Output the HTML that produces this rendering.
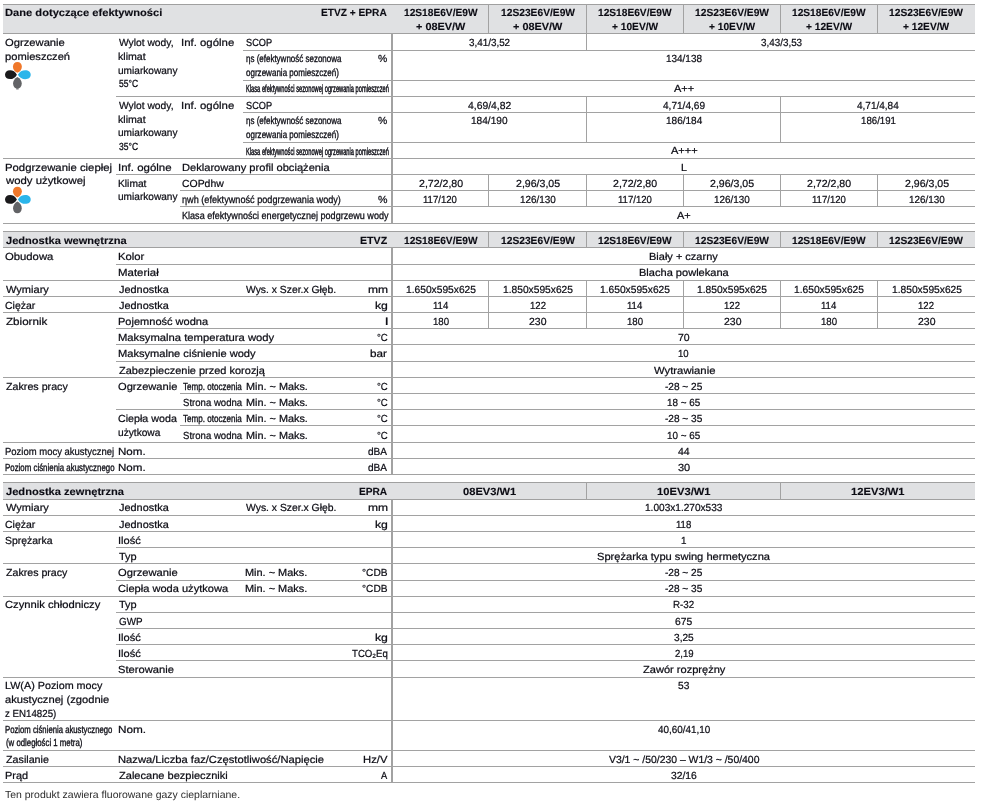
<!DOCTYPE html>
<html lang="pl"><head><meta charset="utf-8"><title>Dane techniczne</title>
<style>
html,body{margin:0;padding:0;background:#fff}
body{width:990px;height:808px;position:relative;overflow:hidden;font-family:"Liberation Sans", "DejaVu Sans", sans-serif;color:#0c0c14}
#g{position:absolute;left:0;top:0}
.t{position:absolute;white-space:nowrap;font-size:10.3px;line-height:12px;transform-origin:0 0;text-rendering:geometricPrecision;-webkit-text-stroke:0.22px currentColor}
.b{font-weight:bold;-webkit-text-stroke:0.12px currentColor}
.f{-webkit-text-stroke:0}
</style></head><body>
<svg id="g" width="990" height="808" viewBox="0 0 990 808">
<rect x="3" y="4" width="972" height="30" fill="#e0e1e3"/>
<rect x="3" y="231" width="972" height="17" fill="#e0e1e3"/>
<rect x="3" y="482" width="972" height="18" fill="#e0e1e3"/>
<rect x="3" y="4" width="972" height="1" fill="#a0a0a0"/>
<rect x="3" y="33" width="972" height="1" fill="#a0a0a0"/>
<rect x="243" y="50" width="732" height="1" fill="#a2a2a2"/>
<rect x="243" y="80" width="732" height="1" fill="#a2a2a2"/>
<rect x="116" y="96" width="859" height="1" fill="#a2a2a2"/>
<rect x="243" y="112" width="732" height="1" fill="#a2a2a2"/>
<rect x="243" y="142" width="732" height="1" fill="#a2a2a2"/>
<rect x="3" y="158" width="972" height="1" fill="#a2a2a2"/>
<rect x="116" y="174" width="859" height="1" fill="#a2a2a2"/>
<rect x="180" y="190" width="795" height="1" fill="#a2a2a2"/>
<rect x="180" y="206" width="795" height="1" fill="#a2a2a2"/>
<rect x="3" y="223" width="972" height="1" fill="#a2a2a2"/>
<rect x="3" y="231" width="972" height="1" fill="#a0a0a0"/>
<rect x="3" y="247" width="972" height="1" fill="#a0a0a0"/>
<rect x="116" y="264" width="859" height="1" fill="#a2a2a2"/>
<rect x="3" y="280" width="972" height="1" fill="#a2a2a2"/>
<rect x="3" y="296" width="972" height="1" fill="#a2a2a2"/>
<rect x="3" y="312" width="972" height="1" fill="#a2a2a2"/>
<rect x="116" y="328" width="859" height="1" fill="#a2a2a2"/>
<rect x="116" y="344" width="859" height="1" fill="#a2a2a2"/>
<rect x="116" y="361" width="859" height="1" fill="#a2a2a2"/>
<rect x="3" y="377" width="972" height="1" fill="#a2a2a2"/>
<rect x="180" y="393" width="795" height="1" fill="#a2a2a2"/>
<rect x="116" y="409" width="859" height="1" fill="#a2a2a2"/>
<rect x="180" y="425" width="795" height="1" fill="#a2a2a2"/>
<rect x="3" y="442" width="972" height="1" fill="#a2a2a2"/>
<rect x="3" y="458" width="972" height="1" fill="#a2a2a2"/>
<rect x="3" y="474" width="972" height="1" fill="#a2a2a2"/>
<rect x="3" y="482" width="972" height="1" fill="#a0a0a0"/>
<rect x="3" y="499" width="972" height="1" fill="#a0a0a0"/>
<rect x="3" y="515" width="972" height="1" fill="#a2a2a2"/>
<rect x="3" y="531" width="972" height="1" fill="#a2a2a2"/>
<rect x="116" y="547" width="859" height="1" fill="#a2a2a2"/>
<rect x="3" y="563" width="972" height="1" fill="#a2a2a2"/>
<rect x="116" y="580" width="859" height="1" fill="#a2a2a2"/>
<rect x="3" y="596" width="972" height="1" fill="#a2a2a2"/>
<rect x="116" y="612" width="859" height="1" fill="#a2a2a2"/>
<rect x="116" y="628" width="859" height="1" fill="#a2a2a2"/>
<rect x="116" y="644" width="859" height="1" fill="#a2a2a2"/>
<rect x="116" y="660" width="859" height="1" fill="#a2a2a2"/>
<rect x="3" y="677" width="972" height="1" fill="#a2a2a2"/>
<rect x="3" y="720" width="972" height="1" fill="#a2a2a2"/>
<rect x="3" y="750" width="972" height="1" fill="#a2a2a2"/>
<rect x="3" y="766" width="972" height="1" fill="#a2a2a2"/>
<rect x="3" y="782" width="972" height="1" fill="#a2a2a2"/>
<rect x="488" y="4" width="1" height="30" fill="#a2a2a2"/>
<rect x="586" y="4" width="1" height="30" fill="#a2a2a2"/>
<rect x="683" y="4" width="1" height="30" fill="#a2a2a2"/>
<rect x="780" y="4" width="1" height="30" fill="#a2a2a2"/>
<rect x="877" y="4" width="1" height="30" fill="#a2a2a2"/>
<rect x="391" y="33" width="2" height="191" fill="#a2a2a2"/>
<rect x="586" y="33" width="1" height="18" fill="#a2a2a2"/>
<rect x="586" y="96" width="1" height="47" fill="#a2a2a2"/>
<rect x="780" y="96" width="1" height="47" fill="#a2a2a2"/>
<rect x="488" y="174" width="1" height="33" fill="#a2a2a2"/>
<rect x="586" y="174" width="1" height="33" fill="#a2a2a2"/>
<rect x="683" y="174" width="1" height="33" fill="#a2a2a2"/>
<rect x="780" y="174" width="1" height="33" fill="#a2a2a2"/>
<rect x="877" y="174" width="1" height="33" fill="#a2a2a2"/>
<rect x="488" y="231" width="1" height="17" fill="#a2a2a2"/>
<rect x="586" y="231" width="1" height="17" fill="#a2a2a2"/>
<rect x="683" y="231" width="1" height="17" fill="#a2a2a2"/>
<rect x="780" y="231" width="1" height="17" fill="#a2a2a2"/>
<rect x="877" y="231" width="1" height="17" fill="#a2a2a2"/>
<rect x="391" y="247" width="2" height="228" fill="#a2a2a2"/>
<rect x="488" y="280" width="1" height="49" fill="#a2a2a2"/>
<rect x="586" y="280" width="1" height="49" fill="#a2a2a2"/>
<rect x="683" y="280" width="1" height="49" fill="#a2a2a2"/>
<rect x="780" y="280" width="1" height="49" fill="#a2a2a2"/>
<rect x="877" y="280" width="1" height="49" fill="#a2a2a2"/>
<rect x="586" y="482" width="1" height="18" fill="#a2a2a2"/>
<rect x="780" y="482" width="1" height="18" fill="#a2a2a2"/>
<rect x="391" y="499" width="2" height="284" fill="#a2a2a2"/>
<g transform="translate(17.40 74.50)"><path transform="translate(0 -1.7) rotate(-90)" d="M0 0 C1.40 -3.03 3.67 -4.45 6.16 -4.45 C9.07 -4.45 10.80 -2.58 10.80 0 C10.80 2.58 9.07 4.45 6.16 4.45 C3.67 4.45 1.40 3.03 0 0Z" fill="#f0782a"/><path transform="translate(-0.5 0.2) rotate(180)" d="M0 0 C1.55 -2.99 4.05 -4.40 6.78 -4.40 C10.00 -4.40 11.90 -2.55 11.90 0 C11.90 2.55 10.00 4.40 6.78 4.40 C4.05 4.40 1.55 2.99 0 0Z" fill="#1b1a1c"/><path transform="translate(0.5 0.2)" d="M0 0 C1.66 -3.03 4.35 -4.45 7.30 -4.45 C10.75 -4.45 12.80 -2.58 12.80 0 C12.80 2.58 10.75 4.45 7.30 4.45 C4.35 4.45 1.66 3.03 0 0Z" fill="#2bb5ea"/><path transform="translate(0 2.4) rotate(90)" d="M0 0 C1.52 -2.96 3.98 -4.35 6.67 -4.35 C9.83 -4.35 11.70 -2.52 11.70 0 C11.70 2.52 9.83 4.35 6.67 4.35 C3.98 4.35 1.52 2.96 0 0Z" fill="#626366"/><rect x="-1.3" y="13.6" width="2.6" height="1.5" rx="0.6" fill="#77787a"/></g>
<g transform="translate(17.40 199.20)"><path transform="translate(0 -1.7) rotate(-90)" d="M0 0 C1.40 -3.03 3.67 -4.45 6.16 -4.45 C9.07 -4.45 10.80 -2.58 10.80 0 C10.80 2.58 9.07 4.45 6.16 4.45 C3.67 4.45 1.40 3.03 0 0Z" fill="#f0782a"/><path transform="translate(-0.5 0.2) rotate(180)" d="M0 0 C1.55 -2.99 4.05 -4.40 6.78 -4.40 C10.00 -4.40 11.90 -2.55 11.90 0 C11.90 2.55 10.00 4.40 6.78 4.40 C4.05 4.40 1.55 2.99 0 0Z" fill="#1b1a1c"/><path transform="translate(0.5 0.2)" d="M0 0 C1.66 -3.03 4.35 -4.45 7.30 -4.45 C10.75 -4.45 12.80 -2.58 12.80 0 C12.80 2.58 10.75 4.45 7.30 4.45 C4.35 4.45 1.66 3.03 0 0Z" fill="#2bb5ea"/><path transform="translate(0 2.4) rotate(90)" d="M0 0 C1.52 -2.96 3.98 -4.35 6.67 -4.35 C9.83 -4.35 11.70 -2.52 11.70 0 C11.70 2.52 9.83 4.35 6.67 4.35 C3.98 4.35 1.52 2.96 0 0Z" fill="#626366"/></g>
</svg>
<div class="t b" style="left:5.09px;top:8px;transform:scaleX(1.0819)">Dane dotyczące efektywności</div>
<div class="t b" style="left:320.76px;top:8px;transform:scaleX(0.9871)">ETVZ + EPRA</div>
<div class="t b" style="left:403.66px;top:8px;transform:scaleX(0.9878)">12S18E6V/E9W</div>
<div class="t b" style="left:415.82px;top:22px;transform:scaleX(1.0587)">+ 08EV/W</div>
<div class="t b" style="left:500.65px;top:8px;transform:scaleX(0.9946)">12S23E6V/E9W</div>
<div class="t b" style="left:513.07px;top:22px;transform:scaleX(1.0587)">+ 08EV/W</div>
<div class="t b" style="left:598.41px;top:8px;transform:scaleX(0.9878)">12S18E6V/E9W</div>
<div class="t b" style="left:612.21px;top:22px;transform:scaleX(0.9891)">+ 10EV/W</div>
<div class="t b" style="left:695.15px;top:8px;transform:scaleX(0.9946)">12S23E6V/E9W</div>
<div class="t b" style="left:709.21px;top:22px;transform:scaleX(0.9891)">+ 10EV/W</div>
<div class="t b" style="left:792.41px;top:8px;transform:scaleX(0.9878)">12S18E6V/E9W</div>
<div class="t b" style="left:806.21px;top:22px;transform:scaleX(0.9891)">+ 12EV/W</div>
<div class="t b" style="left:889.40px;top:8px;transform:scaleX(0.9946)">12S23E6V/E9W</div>
<div class="t b" style="left:903.46px;top:22px;transform:scaleX(0.9891)">+ 12EV/W</div>
<div class="t" style="left:5.36px;top:38px;transform:scaleX(1.0889)">Ogrzewanie</div>
<div class="t" style="left:5.09px;top:52px;transform:scaleX(1.0826)">pomieszczeń</div>
<div class="t" style="left:119.00px;top:38px;transform:scaleX(0.9972)">Wylot wody,</div>
<div class="t" style="left:118.23px;top:52px;transform:scaleX(1.0308)">klimat</div>
<div class="t" style="left:118.26px;top:66px;transform:scaleX(0.9808)">umiarkowany</div>
<div class="t" style="left:118.59px;top:79px;transform:scaleX(0.8273);-webkit-text-stroke-width:0.30px">55°C</div>
<div class="t" style="left:181.49px;top:38px;transform:scaleX(1.1080)">Inf. ogólne</div>
<div class="t" style="left:245.65px;top:38px;transform:scaleX(0.8920);-webkit-text-stroke-width:0.26px">SCOP</div>
<div class="t" style="left:245.71px;top:54px;transform:scaleX(0.7755);-webkit-text-stroke-width:0.32px">ηs (efektywność sezonowa</div>
<div class="t" style="left:245.71px;top:68px;transform:scaleX(0.7805);-webkit-text-stroke-width:0.32px">ogrzewania pomieszczeń)</div>
<div class="t" style="left:378.25px;top:54px;transform:scaleX(1.0118)">%</div>
<div class="t" style="left:245.68px;top:84px;transform:scaleX(0.5549);-webkit-text-stroke-width:0.44px">Klasa efektywności sezonowej ogrzewania pomieszczeń</div>
<div class="t" style="left:119.00px;top:101px;transform:scaleX(0.9972)">Wylot wody,</div>
<div class="t" style="left:118.23px;top:115px;transform:scaleX(1.0308)">klimat</div>
<div class="t" style="left:118.26px;top:128px;transform:scaleX(0.9808)">umiarkowany</div>
<div class="t" style="left:118.59px;top:142px;transform:scaleX(0.8273);-webkit-text-stroke-width:0.30px">35°C</div>
<div class="t" style="left:181.49px;top:101px;transform:scaleX(1.1080)">Inf. ogólne</div>
<div class="t" style="left:245.65px;top:101px;transform:scaleX(0.8920);-webkit-text-stroke-width:0.26px">SCOP</div>
<div class="t" style="left:245.71px;top:116px;transform:scaleX(0.7755);-webkit-text-stroke-width:0.32px">ηs (efektywność sezonowa</div>
<div class="t" style="left:245.71px;top:130px;transform:scaleX(0.7805);-webkit-text-stroke-width:0.32px">ogrzewania pomieszczeń)</div>
<div class="t" style="left:378.25px;top:116px;transform:scaleX(1.0118)">%</div>
<div class="t" style="left:245.68px;top:147px;transform:scaleX(0.5549);-webkit-text-stroke-width:0.44px">Klasa efektywności sezonowej ogrzewania pomieszczeń</div>
<div class="t" style="left:469.12px;top:38px;transform:scaleX(0.9571)">3,41/3,52</div>
<div class="t" style="left:760.62px;top:38px;transform:scaleX(0.9571)">3,43/3,53</div>
<div class="t" style="left:665.82px;top:54px;transform:scaleX(0.9667)">134/138</div>
<div class="t" style="left:674.06px;top:84px;transform:scaleX(1.0692)">A++</div>
<div class="t" style="left:468.20px;top:101px;transform:scaleX(1.0059)">4,69/4,82</div>
<div class="t" style="left:663.06px;top:101px;transform:scaleX(0.9775)">4,71/4,69</div>
<div class="t" style="left:857.31px;top:101px;transform:scaleX(0.9718)">4,71/4,84</div>
<div class="t" style="left:471.31px;top:116px;transform:scaleX(0.9806)">184/190</div>
<div class="t" style="left:665.57px;top:116px;transform:scaleX(0.9738)">186/184</div>
<div class="t" style="left:860.60px;top:116px;transform:scaleX(0.9389)">186/191</div>
<div class="t" style="left:670.82px;top:146px;transform:scaleX(1.0718)">A+++</div>
<div class="t" style="left:5.08px;top:163px;transform:scaleX(1.0997)">Podgrzewanie ciepłej</div>
<div class="t" style="left:5.90px;top:176px;transform:scaleX(1.1021)">wody użytkowej</div>
<div class="t" style="left:117.89px;top:163px;transform:scaleX(1.1144)">Inf. ogólne</div>
<div class="t" style="left:181.79px;top:163px;transform:scaleX(1.0794)">Deklarowany profil obciążenia</div>
<div class="t" style="left:680.71px;top:163px;transform:scaleX(1.0379)">L</div>
<div class="t" style="left:118.25px;top:179px;transform:scaleX(0.9946)">Klimat</div>
<div class="t" style="left:118.26px;top:192px;transform:scaleX(0.9808)">umiarkowany</div>
<div class="t" style="left:182.09px;top:179px;transform:scaleX(1.0135)">COPdhw</div>
<div class="t" style="left:418.64px;top:179px;transform:scaleX(1.0262)">2,72/2,80</div>
<div class="t" style="left:515.89px;top:179px;transform:scaleX(1.0262)">2,96/3,05</div>
<div class="t" style="left:613.39px;top:179px;transform:scaleX(1.0262)">2,72/2,80</div>
<div class="t" style="left:710.39px;top:179px;transform:scaleX(1.0262)">2,96/3,05</div>
<div class="t" style="left:807.39px;top:179px;transform:scaleX(1.0262)">2,72/2,80</div>
<div class="t" style="left:904.64px;top:179px;transform:scaleX(1.0262)">2,96/3,05</div>
<div class="t" style="left:182.16px;top:195px;transform:scaleX(0.8871);-webkit-text-stroke-width:0.26px">ηwh (efektywność podgrzewania wody)</div>
<div class="t" style="left:378.04px;top:195px;transform:scaleX(1.0353)">%</div>
<div class="t" style="left:423.46px;top:195px;transform:scaleX(0.9300)">117/120</div>
<div class="t" style="left:519.88px;top:195px;transform:scaleX(0.9639)">126/130</div>
<div class="t" style="left:618.21px;top:195px;transform:scaleX(0.9300)">117/120</div>
<div class="t" style="left:714.38px;top:195px;transform:scaleX(0.9639)">126/130</div>
<div class="t" style="left:812.21px;top:195px;transform:scaleX(0.9300)">117/120</div>
<div class="t" style="left:908.63px;top:195px;transform:scaleX(0.9639)">126/130</div>
<div class="t" style="left:181.94px;top:211px;transform:scaleX(0.8800);-webkit-text-stroke-width:0.27px">Klasa efektywności energetycznej podgrzewu wody</div>
<div class="t" style="left:677.30px;top:211px;transform:scaleX(1.0640)">A+</div>
<div class="t b" style="left:5.63px;top:236px;transform:scaleX(1.0759)">Jednostka wewnętrzna</div>
<div class="t b" style="left:359.82px;top:236px;transform:scaleX(1.0337)">ETVZ</div>
<div class="t b" style="left:403.66px;top:236px;transform:scaleX(0.9878)">12S18E6V/E9W</div>
<div class="t b" style="left:500.65px;top:236px;transform:scaleX(0.9946)">12S23E6V/E9W</div>
<div class="t b" style="left:598.41px;top:236px;transform:scaleX(0.9878)">12S18E6V/E9W</div>
<div class="t b" style="left:695.15px;top:236px;transform:scaleX(0.9946)">12S23E6V/E9W</div>
<div class="t b" style="left:792.41px;top:236px;transform:scaleX(0.9878)">12S18E6V/E9W</div>
<div class="t b" style="left:889.40px;top:236px;transform:scaleX(0.9946)">12S23E6V/E9W</div>
<div class="t" style="left:5.35px;top:252px;transform:scaleX(1.0966)">Obudowa</div>
<div class="t" style="left:118.18px;top:252px;transform:scaleX(1.0968)">Kolor</div>
<div class="t" style="left:649.25px;top:252px;transform:scaleX(1.0677)">Biały + czarny</div>
<div class="t" style="left:118.17px;top:268px;transform:scaleX(1.1105)">Materiał</div>
<div class="t" style="left:638.75px;top:268px;transform:scaleX(1.0731)">Blacha powlekana</div>
<div class="t" style="left:5.90px;top:285px;transform:scaleX(1.0725)">Wymiary</div>
<div class="t" style="left:118.74px;top:285px;transform:scaleX(1.0588)">Jednostka</div>
<div class="t" style="left:246.30px;top:285px;transform:scaleX(1.0051)">Wys. x Szer.x Głęb.</div>
<div class="t" style="left:367.82px;top:285px;transform:scaleX(1.1683)">mm</div>
<div class="t" style="left:405.55px;top:285px;transform:scaleX(0.9935)">1.650x595x625</div>
<div class="t" style="left:502.80px;top:285px;transform:scaleX(0.9935)">1.850x595x625</div>
<div class="t" style="left:600.30px;top:285px;transform:scaleX(0.9935)">1.650x595x625</div>
<div class="t" style="left:697.30px;top:285px;transform:scaleX(0.9935)">1.850x595x625</div>
<div class="t" style="left:794.30px;top:285px;transform:scaleX(0.9935)">1.650x595x625</div>
<div class="t" style="left:891.55px;top:285px;transform:scaleX(0.9935)">1.850x595x625</div>
<div class="t" style="left:5.39px;top:301px;transform:scaleX(1.0207)">Ciężar</div>
<div class="t" style="left:118.74px;top:301px;transform:scaleX(1.0588)">Jednostka</div>
<div class="t" style="left:374.91px;top:301px;transform:scaleX(1.1895)">kg</div>
<div class="t" style="left:432.65px;top:301px;transform:scaleX(0.9300)">114</div>
<div class="t" style="left:529.66px;top:301px;transform:scaleX(0.9300)">122</div>
<div class="t" style="left:627.39px;top:301px;transform:scaleX(0.9300)">114</div>
<div class="t" style="left:724.16px;top:301px;transform:scaleX(0.9300)">122</div>
<div class="t" style="left:821.39px;top:301px;transform:scaleX(0.9300)">114</div>
<div class="t" style="left:918.41px;top:301px;transform:scaleX(0.9300)">122</div>
<div class="t" style="left:5.62px;top:317px;transform:scaleX(1.1283)">Zbiornik</div>
<div class="t" style="left:118.20px;top:317px;transform:scaleX(1.0707)">Pojemność wodna</div>
<div class="t" style="left:384.80px;top:317px;transform:scaleX(1.4667)">l</div>
<div class="t" style="left:432.50px;top:317px;transform:scaleX(0.9375)">180</div>
<div class="t" style="left:529.19px;top:317px;transform:scaleX(1.0154)">230</div>
<div class="t" style="left:627.25px;top:317px;transform:scaleX(0.9375)">180</div>
<div class="t" style="left:723.69px;top:317px;transform:scaleX(1.0154)">230</div>
<div class="t" style="left:821.25px;top:317px;transform:scaleX(0.9375)">180</div>
<div class="t" style="left:917.94px;top:317px;transform:scaleX(1.0154)">230</div>
<div class="t" style="left:118.18px;top:333px;transform:scaleX(1.0917)">Maksymalna temperatura wody</div>
<div class="t" style="left:376.83px;top:333px;transform:scaleX(0.9333)">°C</div>
<div class="t" style="left:678.09px;top:333px;transform:scaleX(1.0190)">70</div>
<div class="t" style="left:118.19px;top:349px;transform:scaleX(1.0777)">Maksymalne ciśnienie wody</div>
<div class="t" style="left:370.35px;top:349px;transform:scaleX(1.1357)">bar</div>
<div class="t" style="left:678.34px;top:349px;transform:scaleX(0.9300)">10</div>
<div class="t" style="left:118.73px;top:366px;transform:scaleX(1.0667)">Zabezpieczenie przed korozją</div>
<div class="t" style="left:653.50px;top:366px;transform:scaleX(1.0973)">Wytrawianie</div>
<div class="t" style="left:5.64px;top:382px;transform:scaleX(1.0380)">Zakres pracy</div>
<div class="t" style="left:118.46px;top:382px;transform:scaleX(1.0815)">Ogrzewanie</div>
<div class="t" style="left:182.80px;top:382px;transform:scaleX(0.7839);-webkit-text-stroke-width:0.32px">Temp. otoczenia</div>
<div class="t" style="left:245.51px;top:382px;transform:scaleX(1.0544)">Min. ~ Maks.</div>
<div class="t" style="left:376.83px;top:382px;transform:scaleX(0.9333)">°C</div>
<div class="t" style="left:665.36px;top:382px;transform:scaleX(0.9784)">-28 ~ 25</div>
<div class="t" style="left:182.53px;top:398px;transform:scaleX(0.9302)">Strona wodna</div>
<div class="t" style="left:245.51px;top:398px;transform:scaleX(1.0544)">Min. ~ Maks.</div>
<div class="t" style="left:376.83px;top:398px;transform:scaleX(0.9333)">°C</div>
<div class="t" style="left:667.18px;top:398px;transform:scaleX(0.9582)">18 ~ 65</div>
<div class="t" style="left:182.80px;top:414px;transform:scaleX(0.7839);-webkit-text-stroke-width:0.32px">Temp. otoczenia</div>
<div class="t" style="left:245.51px;top:414px;transform:scaleX(1.0544)">Min. ~ Maks.</div>
<div class="t" style="left:376.83px;top:414px;transform:scaleX(0.9333)">°C</div>
<div class="t" style="left:665.36px;top:414px;transform:scaleX(0.9784)">-28 ~ 35</div>
<div class="t" style="left:182.53px;top:431px;transform:scaleX(0.9302)">Strona wodna</div>
<div class="t" style="left:245.51px;top:431px;transform:scaleX(1.0544)">Min. ~ Maks.</div>
<div class="t" style="left:376.83px;top:431px;transform:scaleX(0.9333)">°C</div>
<div class="t" style="left:667.18px;top:431px;transform:scaleX(0.9582)">10 ~ 65</div>
<div class="t" style="left:118.48px;top:414px;transform:scaleX(1.0382)">Ciepła woda</div>
<div class="t" style="left:118.26px;top:428px;transform:scaleX(0.9870)">użytkowa</div>
<div class="t" style="left:5.21px;top:447px;transform:scaleX(0.9214)">Poziom mocy akustycznej</div>
<div class="t" style="left:118.16px;top:447px;transform:scaleX(1.1261)">Nom.</div>
<div class="t" style="left:368.01px;top:447px;transform:scaleX(0.9789)">dBA</div>
<div class="t" style="left:678.10px;top:447px;transform:scaleX(1.0182)">44</div>
<div class="t" style="left:5.33px;top:463px;transform:scaleX(0.7655);-webkit-text-stroke-width:0.33px">Poziom ciśnienia akustycznego</div>
<div class="t" style="left:118.16px;top:463px;transform:scaleX(1.1261)">Nom.</div>
<div class="t" style="left:368.01px;top:463px;transform:scaleX(0.9789)">dBA</div>
<div class="t" style="left:677.82px;top:463px;transform:scaleX(1.0667)">30</div>
<div class="t b" style="left:5.63px;top:487px;transform:scaleX(1.0792)">Jednostka zewnętrzna</div>
<div class="t b" style="left:358.86px;top:487px;transform:scaleX(0.9855)">EPRA</div>
<div class="t b" style="left:462.91px;top:487px;transform:scaleX(1.0825)">08EV3/W1</div>
<div class="t b" style="left:656.88px;top:487px;transform:scaleX(1.0881)">10EV3/W1</div>
<div class="t b" style="left:851.13px;top:487px;transform:scaleX(1.0881)">12EV3/W1</div>
<div class="t" style="left:5.90px;top:503px;transform:scaleX(1.0725)">Wymiary</div>
<div class="t" style="left:118.74px;top:503px;transform:scaleX(1.0588)">Jednostka</div>
<div class="t" style="left:246.10px;top:503px;transform:scaleX(1.0073)">Wys. x Szer.x Głęb.</div>
<div class="t" style="left:367.82px;top:503px;transform:scaleX(1.1683)">mm</div>
<div class="t" style="left:645.11px;top:503px;transform:scaleX(0.9801)">1.003x1.270x533</div>
<div class="t" style="left:5.39px;top:520px;transform:scaleX(1.0207)">Ciężar</div>
<div class="t" style="left:118.74px;top:520px;transform:scaleX(1.0588)">Jednostka</div>
<div class="t" style="left:374.91px;top:520px;transform:scaleX(1.1895)">kg</div>
<div class="t" style="left:676.01px;top:520px;transform:scaleX(0.9300)">118</div>
<div class="t" style="left:5.39px;top:536px;transform:scaleX(1.0151)">Sprężarka</div>
<div class="t" style="left:117.92px;top:536px;transform:scaleX(1.0785)">Ilość</div>
<div class="t" style="left:681.08px;top:536px;transform:scaleX(0.9556)">1</div>
<div class="t" style="left:118.73px;top:552px;transform:scaleX(1.0625)">Typ</div>
<div class="t" style="left:597.16px;top:552px;transform:scaleX(1.0798)">Sprężarka typu swing hermetyczna</div>
<div class="t" style="left:5.64px;top:568px;transform:scaleX(1.0312)">Zakres pracy</div>
<div class="t" style="left:118.46px;top:568px;transform:scaleX(1.0852)">Ogrzewanie</div>
<div class="t" style="left:245.30px;top:568px;transform:scaleX(1.0614)">Min. ~ Maks.</div>
<div class="t" style="left:362.21px;top:568px;transform:scaleX(0.9859)">°CDB</div>
<div class="t" style="left:665.36px;top:568px;transform:scaleX(0.9784)">-28 ~ 25</div>
<div class="t" style="left:118.46px;top:584px;transform:scaleX(1.0745)">Ciepła woda użytkowa</div>
<div class="t" style="left:245.30px;top:584px;transform:scaleX(1.0614)">Min. ~ Maks.</div>
<div class="t" style="left:362.21px;top:584px;transform:scaleX(0.9859)">°CDB</div>
<div class="t" style="left:665.36px;top:584px;transform:scaleX(0.9784)">-28 ~ 35</div>
<div class="t" style="left:5.36px;top:600px;transform:scaleX(1.0885)">Czynnik chłodniczy</div>
<div class="t" style="left:118.73px;top:600px;transform:scaleX(1.0625)">Typ</div>
<div class="t" style="left:673.24px;top:600px;transform:scaleX(0.9524)">R-32</div>
<div class="t" style="left:118.52px;top:617px;transform:scaleX(0.9574)">GWP</div>
<div class="t" style="left:675.35px;top:617px;transform:scaleX(0.9969)">675</div>
<div class="t" style="left:117.92px;top:633px;transform:scaleX(1.0785)">Ilość</div>
<div class="t" style="left:374.91px;top:633px;transform:scaleX(1.1895)">kg</div>
<div class="t" style="left:674.11px;top:633px;transform:scaleX(0.9842)">3,25</div>
<div class="t" style="left:117.92px;top:649px;transform:scaleX(1.0785)">Ilość</div>
<div class="t" style="left:351.77px;top:649px;transform:scaleX(0.9360)">TCO₂Eq</div>
<div class="t" style="left:674.50px;top:649px;transform:scaleX(0.9300)">2,19</div>
<div class="t" style="left:118.46px;top:665px;transform:scaleX(1.0851)">Sterowanie</div>
<div class="t" style="left:642.73px;top:665px;transform:scaleX(1.0741)">Zawór rozprężny</div>
<div class="t" style="left:5.12px;top:681px;transform:scaleX(1.0461)">LW(A) Poziom mocy</div>
<div class="t" style="left:5.36px;top:695px;transform:scaleX(1.0845)">akustycznej (zgodnie</div>
<div class="t" style="left:5.43px;top:709px;transform:scaleX(0.9427)">z EN14825)</div>
<div class="t" style="left:678.25px;top:681px;transform:scaleX(0.9905)">53</div>
<div class="t" style="left:5.34px;top:725px;transform:scaleX(0.7507);-webkit-text-stroke-width:0.34px">Poziom ciśnienia akustycznego</div>
<div class="t" style="left:5.52px;top:738px;transform:scaleX(0.7588);-webkit-text-stroke-width:0.33px">(w odległości 1 metra)</div>
<div class="t" style="left:118.14px;top:725px;transform:scaleX(1.1435)">Nom.</div>
<div class="t" style="left:657.91px;top:725px;transform:scaleX(0.9600)">40,60/41,10</div>
<div class="t" style="left:5.64px;top:755px;transform:scaleX(1.0420)">Zasilanie</div>
<div class="t" style="left:118.18px;top:755px;transform:scaleX(1.0874)">Nazwa/Liczba faz/Częstotliwość/Napięcie</div>
<div class="t" style="left:362.78px;top:755px;transform:scaleX(1.0930)">Hz/V</div>
<div class="t" style="left:608.90px;top:755px;transform:scaleX(1.0108)">V3/1 ~ /50/230 – W1/3 ~ /50/400</div>
<div class="t" style="left:5.10px;top:771px;transform:scaleX(1.0617)">Prąd</div>
<div class="t" style="left:118.73px;top:771px;transform:scaleX(1.0733)">Zalecane bezpieczniki</div>
<div class="t" style="left:381.00px;top:771px;transform:scaleX(0.9037)">A</div>
<div class="t" style="left:671.05px;top:771px;transform:scaleX(1.0020)">32/16</div>
<div class="t f" style="left:4.65px;top:790px;transform:scaleX(1.0165);color:#2b2b2b">Ten produkt zawiera fluorowane gazy cieplarniane.</div>
</body></html>
